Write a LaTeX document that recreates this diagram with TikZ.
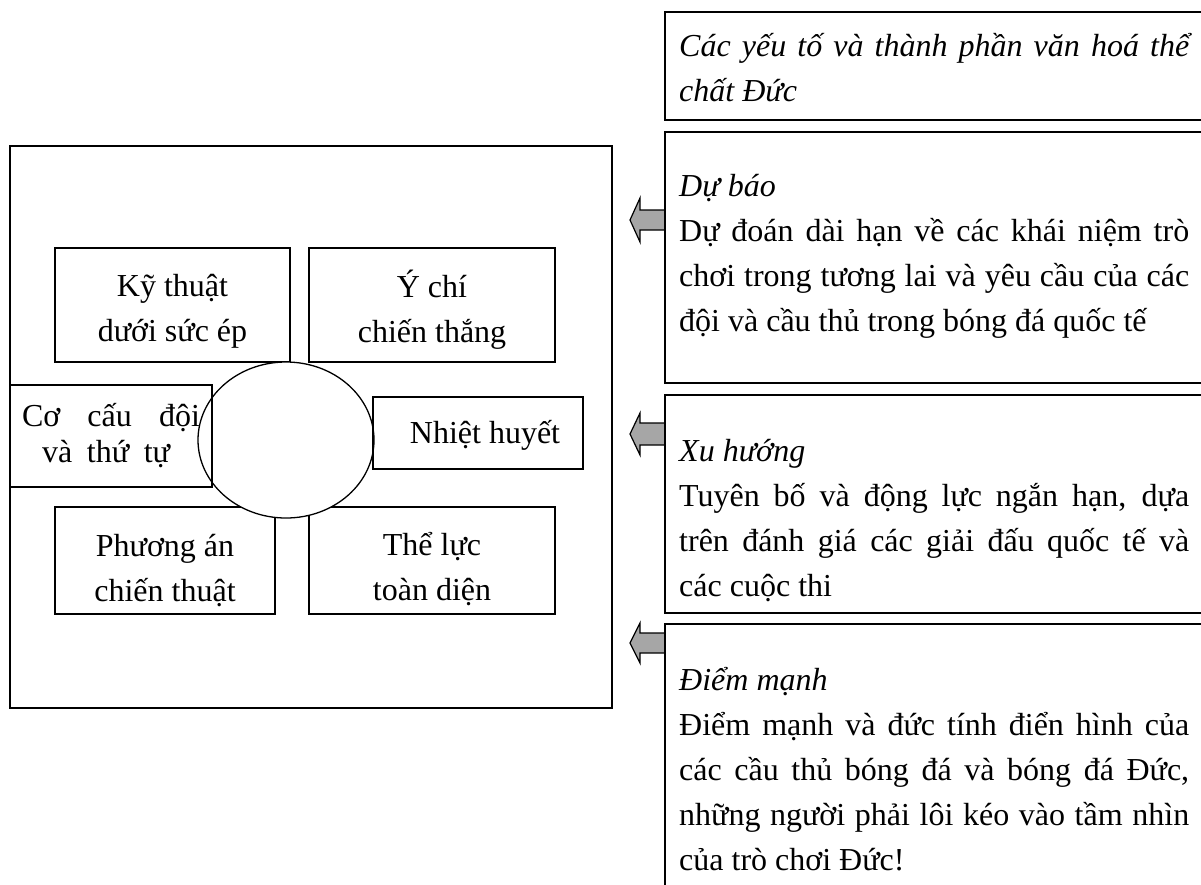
\documentclass[tikz,border=0pt]{standalone}
\usepackage{fontspec}
\setmainfont{Liberation Serif}
\usetikzlibrary{shapes.geometric}
\definecolor{arrowgray}{RGB}{166,166,166}
\tikzset{
  lbox/.style={draw, line width=1.3pt, inner sep=0pt},
  ltext/.style={inner sep=0pt, align=center, font=\fontsize{32}{45}\selectfont},
  rbox/.style={draw, line width=1.8pt, inner sep=0pt},
  para/.style={font=\fontsize{32}{45}\selectfont, text width=510pt,
    align=justify, inner sep=0pt, anchor=base west},
  blockarrow/.style={draw, line width=1.2pt, fill=arrowgray, line join=miter},
  hub/.style={draw, ellipse, fill=white, line width=1.3pt, inner sep=0pt}
}
\begin{document}
\begin{tikzpicture}[x=1pt, y=-1pt]
\useasboundingbox (0,0) rectangle (1201,884);

% left frame
\node[lbox, line width=1.5pt, minimum width=602, minimum height=562] (frame) at (311,427) {};

% boxes around the hub
\node[lbox, minimum width=235, minimum height=114] (kt) at (172.5,305) {};
\node[lbox, minimum width=246, minimum height=114] (yc) at (432,305) {};
\node[lbox, minimum width=220, minimum height=107] (pa) at (165,560.5) {};
\node[lbox, minimum width=246, minimum height=107] (tl) at (432,560.5) {};
\node[hub, minimum width=176, minimum height=156] (hub) at (286,440) {};
\node[lbox, minimum width=202, minimum height=102] (cc) at (111,436) {};
\node[lbox, minimum width=210, minimum height=72] (nh) at (478,433) {};

\node[ltext, yshift=-6.5pt] (ktt) at (kt.center) {Kỹ thuật\\dưới sức ép};
\node[ltext, yshift=-4.5pt] (yct) at (yc.center) {Ý chí\\chiến thắng};
\node[ltext, yshift=-10pt] (pat) at (pa.center) {Phương án\\chiến thuật};
\node[ltext, yshift=-8.5pt] (tlt) at (tl.center) {Thể lực\\toàn diện};
\node[ltext, font=\fontsize{32}{36}\selectfont, yshift=0.5pt] (cct) at (cc.center)
  {\makebox[178pt][s]{Cơ cấu đội}\\\makebox[128pt][s]{và thứ tự}\hspace*{10pt}};
\node[ltext, xshift=7pt, yshift=-2pt] (nht) at (nh.center) {Nhiệt huyết};

% arrows
\draw[blockarrow] (665,230) -- ++(-25,0) -- ++(0,12) -- ++(-10,-22) -- ++(10,-22) -- ++(0,12) -- ++(25,0) -- cycle;
\draw[blockarrow] (665,445) -- ++(-25,0) -- ++(0,10) -- ++(-10,-21) -- ++(10,-21) -- ++(0,10) -- ++(25,0) -- cycle;
\draw[blockarrow] (665,653) -- ++(-25,0) -- ++(0,10) -- ++(-10,-20) -- ++(10,-20) -- ++(0,10) -- ++(25,0) -- cycle;

% right boxes
\node[rbox, minimum width=550, minimum height=108] (b1) at (940,66) {};
\node[rbox, minimum width=550, minimum height=251] (b2) at (940,257.5) {};
\node[rbox, minimum width=550, minimum height=218] (b3) at (940,504) {};
\node[rbox, minimum width=550, minimum height=276] (b4) at (940,762) {};

\node[para] (t1) at (679,56) {\itshape Các yếu tố và thành phần văn hoá thể\linebreak chất Đức};
\node[para] (t2) at (679,196) {\textit{Dự báo}\\Dự đoán dài hạn về các khái niệm trò\linebreak chơi trong tương lai và yêu cầu của các\linebreak đội và cầu thủ trong bóng đá quốc tế};
\node[para] (t3) at (679,461) {\textit{Xu hướng}\\Tuyên bố và động lực ngắn hạn, dựa\linebreak trên đánh giá các giải đấu quốc tế và\linebreak các cuộc thi};
\node[para] (t4) at (679,690) {\textit{Điểm mạnh}\\Điểm mạnh và đức tính điển hình của\linebreak các cầu thủ bóng đá và bóng đá Đức,\linebreak những người phải lôi kéo vào tầm nhìn\linebreak của trò chơi Đức!};
\end{tikzpicture}
\end{document}
